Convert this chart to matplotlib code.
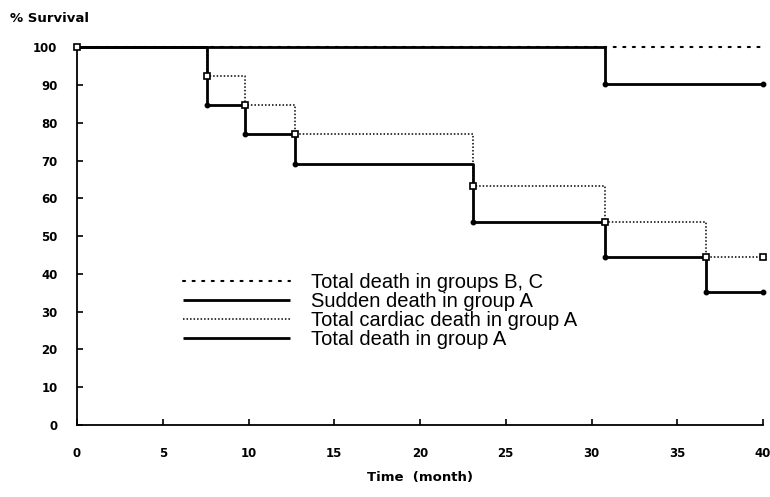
import matplotlib
matplotlib.use('Agg')
import matplotlib.pyplot as plt
from matplotlib.lines import Line2D

# Kaplan-Meier style survival curves
time_bc = [0, 40]
surv_bc = [100, 100]

time_sudden = [0, 30.8, 40]
surv_sudden = [100, 90.2, 90.2]

time_cardiac = [0, 7.6, 9.8, 12.7, 23.1, 30.8, 36.7, 40]
surv_cardiac = [100, 92.3, 84.6, 76.9, 63.3, 53.8, 44.4, 44.4]

time_total = [0, 7.6, 9.8, 12.7, 23.1, 30.8, 36.7, 40]
surv_total = [100, 84.6, 76.9, 69.2, 53.8, 44.4, 35.3, 35.3]

legend_labels = ['Total death in groups B, C',
                 'Sudden death in group A',
                 'Total cardiac death in group A',
                 'Total death in group A']

x_ticks = list(range(0, 41, 5))
y_ticks = list(range(0, 101, 10))

BC_STYLE = dict(color='black', lw=1.5, linestyle=(0, (1, 3.6)), dash_capstyle='round')
SOLID_STYLE = dict(color='black', lw=2.0, solid_capstyle='butt')
CARDIAC_STYLE = dict(color='black', lw=1.1, linestyle=(0, (1, 1.3)))

fig = plt.figure(figsize=(7.7, 4.97), dpi=100)
ax = fig.add_axes([0.1, 0.145, 0.891, 0.76])

# dotted B,C line first, so the solid top line covers it until the drop
ax.step(time_bc, surv_bc, where='post', clip_on=False, **BC_STYLE)
ax.step(time_cardiac, surv_cardiac, where='post', clip_on=False, **CARDIAC_STYLE)
ax.step(time_total, surv_total, where='post', clip_on=False, **SOLID_STYLE)
ax.step(time_sudden, surv_sudden, where='post', clip_on=False, **SOLID_STYLE)

# censor / event markers
ax.plot(time_total[1:], surv_total[1:], 'o', color='black', ms=3.2,
        clip_on=False, zorder=4)
ax.plot(time_sudden[1:], surv_sudden[1:], 'o', color='black', ms=3.2,
        clip_on=False, zorder=4)
ax.plot(time_cardiac, surv_cardiac, 's', mfc='white', mec='black', mew=1.2,
        ms=5, clip_on=False, zorder=5)

ax.set_xlim(0, 40)
ax.set_ylim(0, 100)
ax.set_xticks(x_ticks)
ax.set_yticks(y_ticks)
ax.spines['top'].set_visible(False)
ax.spines['right'].set_visible(False)
ax.spines['left'].set_linewidth(1.3)
ax.spines['bottom'].set_linewidth(1.3)
ax.tick_params(direction='in', length=4, width=1.2)
ax.tick_params(axis='x', pad=16)
ax.tick_params(axis='y', pad=14)
for lbl in ax.get_xticklabels() + ax.get_yticklabels():
    lbl.set_fontweight('bold')
    lbl.set_fontsize(8.5)

fig.text(0.013, 0.963, '% Survival', fontsize=9.5, fontweight='bold', va='center')
ax.set_xlabel('Time  (month)', fontsize=9.5, fontweight='bold', labelpad=8)

handles = [Line2D([], [], **BC_STYLE),
           Line2D([], [], **SOLID_STYLE),
           Line2D([], [], **CARDIAC_STYLE),
           Line2D([], [], **SOLID_STYLE)]
leg = ax.legend(handles, legend_labels, loc='upper left',
                bbox_to_anchor=(183 / 770, 1 - 273 / 497), bbox_transform=fig.transFigure,
                frameon=False, handlelength=5.3, handletextpad=1.05,
                labelspacing=0.0, borderpad=0, borderaxespad=0,
                prop={'family': 'Liberation Sans', 'size': 14.5})

fig.savefig('out.png', dpi=100)
